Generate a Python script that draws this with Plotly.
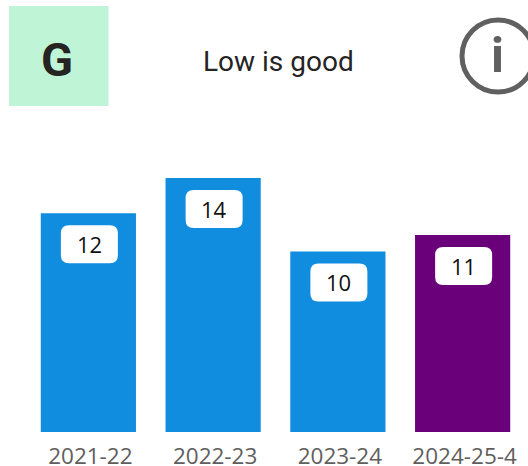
import plotly.graph_objects as go

categories = ["2021-22", "2022-23", "2023-24", "2024-25-4"]
values = [12.05, 14.0, 9.95, 10.85]
labels = ["12", "14", "10", "11"]
bar_colors = ["#118DE0", "#118DE0", "#118DE0", "#6B007B"]
grade = "G"
note = "Low is good"

W, H = 528, 466
L, R, T, B = 26, 3, 120, 34
PW, PH = W - L - R, H - T - B


def px(x):
    return (x - L) / PW


def py(y):
    return 1 - (y - T) / PH


def rounded(w, h, r, cx, cy):
    x0, x1 = cx - w / 2, cx + w / 2
    y0, y1 = cy - h / 2, cy + h / 2
    return (
        f"M {x0 + r} {y0} L {x1 - r} {y0} Q {x1} {y0} {x1} {y0 + r} "
        f"L {x1} {y1 - r} Q {x1} {y1} {x1 - r} {y1} L {x0 + r} {y1} "
        f"Q {x0} {y1} {x0} {y1 - r} L {x0} {y0 + r} Q {x0} {y0} {x0 + r} {y0} Z"
    )


fig = go.Figure(
    go.Bar(
        x=categories,
        y=values,
        marker=dict(color=bar_colors, line=dict(width=0)),
        width=0.763,
        hoverinfo="skip",
    )
)

shapes = [
    dict(type="rect", xref="paper", yref="paper", x0=px(9), x1=px(108.5), y0=py(106), y1=py(6),
         fillcolor="#BFF5D6", line=dict(width=0), layer="below"),
    dict(type="circle", xref="paper", yref="paper", x0=px(462), x1=px(534), y0=py(92), y1=py(20),
         fillcolor="rgba(0,0,0,0)", line=dict(color="#606060", width=5)),
]
annotations = [
    dict(text=f"<b>{grade}</b>", xref="paper", yref="paper", x=px(57), y=py(59), showarrow=False,
         font=dict(family="Roboto", size=47, color="#252423"),
         xanchor="center", yanchor="middle"),
    dict(text=note, xref="paper", yref="paper", x=px(278), y=py(61), showarrow=False,
         font=dict(family="Roboto", size=28, color="#252423"), xanchor="center", yanchor="middle"),
    dict(text="<b>i</b>", xref="paper", yref="paper", x=px(497.5), y=py(55), showarrow=False,
         font=dict(family="Roboto", size=49, color="#606060"), xanchor="center", yanchor="middle"),
]
for cat, val, lab in zip(categories, values, labels):
    shapes.append(dict(type="path", xref="x", yref="y", xsizemode="pixel", ysizemode="pixel",
                       xanchor=cat, yanchor=val, path=rounded(57, 38, 8, 1, -31),
                       fillcolor="white", line=dict(width=0)))
    annotations.append(dict(text=lab, x=cat, y=val, xref="x", yref="y", showarrow=False,
                            font=dict(family="Open Sans", size=22, color="#111111"),
                            xanchor="center", yanchor="middle", xshift=1, yshift=-31))

fig.update_layout(
    width=W, height=H, autosize=False,
    margin=dict(l=L, r=R, t=T, b=B, autoexpand=False),
    paper_bgcolor="white", plot_bgcolor="white",
    showlegend=False,
    shapes=shapes, annotations=annotations,
    xaxis=dict(type="category", showgrid=False, zeroline=False, showline=False, ticks="",
               ticklabelstandoff=8, ticklabelshift=2, automargin=False,
               tickfont=dict(family="Open Sans", size=22.5, color="#605E5C")),
    yaxis=dict(range=[0, PH / 18.15], visible=False, showgrid=False, zeroline=False, automargin=False),
)
fig.write_html("out.html", config={"displayModeBar": False},
               post_script="document.body.style.margin='0';document.body.style.overflow='hidden';")
